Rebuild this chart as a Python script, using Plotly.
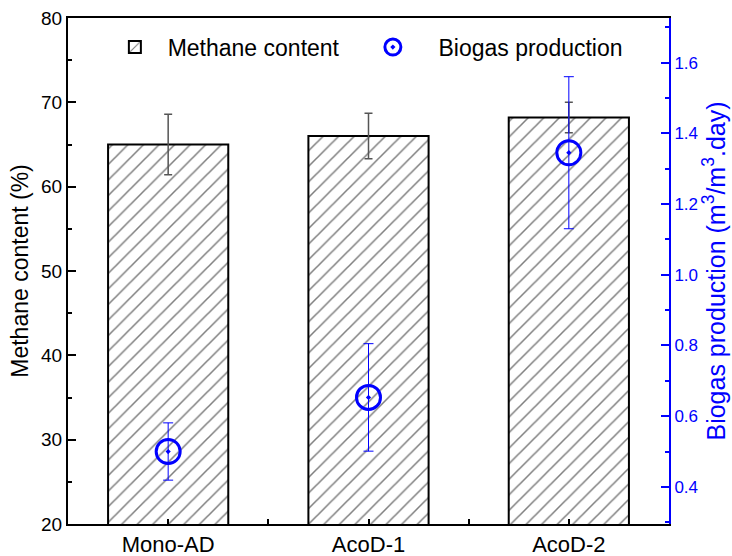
import plotly.graph_objects as go

categories = ["Mono-AD", "AcoD-1", "AcoD-2"]
methane = [65.0, 66.0, 68.2]
methane_err = [3.6, 2.7, 1.8]
biogas = [0.50, 0.653, 1.345]
biogas_err = [0.081, 0.152, 0.215]

xpos = list(range(len(categories)))
FONT = "Liberation Sans, Arial, sans-serif"
BLUE = "#0000ff"
NB = "\u00a0"

fig = go.Figure()
fig.add_trace(go.Bar(
    x=xpos, y=methane, width=0.6, name=NB * 2 + "Methane content",
    marker=dict(color="white", line=dict(color="black", width=2),
                pattern=dict(shape="/", fgcolor="black", bgcolor="white", size=11, solidity=0.14)),
    error_y=dict(type="data", array=methane_err, color="#555555", thickness=1.5, width=4),
))
fig.add_trace(go.Scatter(
    x=xpos, y=biogas, yaxis="y2", mode="markers", name=NB * 4 + "Biogas production",
    marker=dict(symbol="circle-open-dot", size=24, color=BLUE, line=dict(color=BLUE, width=3)),
    error_y=dict(type="data", array=biogas_err, color=BLUE, thickness=1, width=5),
))

fig.update_layout(
    width=732, height=556,
    margin=dict(l=68, r=63, t=18, b=32),
    plot_bgcolor="white", paper_bgcolor="white",
    font=dict(family=FONT, color="black"),
    showlegend=True,
    legend=dict(orientation="h", x=0.078, y=0.985, xanchor="left", yanchor="top",
                font=dict(size=23, family=FONT), bgcolor="rgba(0,0,0,0)",
                entrywidth=213, entrywidthmode="pixels", tracegroupgap=0),
    xaxis=dict(range=[-0.5, 2.5], tickvals=xpos, ticktext=categories, automargin=False,
               showgrid=False, zeroline=False, showline=True, linecolor="black", linewidth=2,
               mirror=True, ticks="inside", ticklen=5, tickwidth=1.5, tickcolor="black",
               tickfont=dict(size=22),
               minor=dict(dtick=0.5, tick0=0.5, ticks="inside", ticklen=5, tickwidth=1.5, tickcolor="black")),
    yaxis=dict(range=[20, 80], dtick=10, showgrid=False, zeroline=False, automargin=False,
               showline=True, linecolor="black", linewidth=2,
               ticks="inside", ticklen=8, tickwidth=1.5, tickcolor="black",
               tickfont=dict(size=19),
               minor=dict(dtick=5, ticks="inside", ticklen=4, tickwidth=1.5, tickcolor="black"),
               title=dict(text="Methane content (%)", font=dict(size=23), standoff=6)),
    yaxis2=dict(range=[0.295, 1.726], overlaying="y", side="right", dtick=0.2, tick0=0.4,
                tickformat=".1f", showgrid=False, zeroline=False, automargin=False,
                showline=True, linecolor=BLUE, linewidth=2,
                ticks="inside", ticklen=8, tickwidth=1.5, tickcolor=BLUE,
                tickfont=dict(size=17, color=BLUE),
                minor=dict(dtick=0.1, tick0=0.3, ticks="inside", ticklen=4, tickwidth=1.5, tickcolor=BLUE),
                title=dict(text="Biogas production (m<sup>3</sup>/m<sup>3</sup>.day)",
                           font=dict(size=25, color=BLUE), standoff=4)),
)

fig.write_html("out.html")
